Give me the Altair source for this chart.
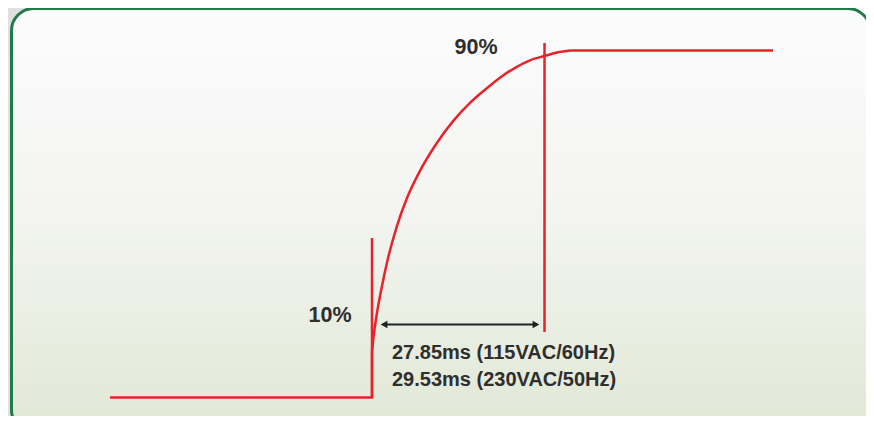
import altair as alt
import pandas as pd

# --- data (units = picture position units) ---
# step at the start of the response
step_x = [110, 372, 372]
step_y = [397.5, 397.5, 352]
# exponential rise and plateau
curve_x = [372, 373.5, 376.5, 381.7, 388.3, 396.7, 406.7, 420, 436.7, 453.3, 470, 485, 500, 515, 530, 545, 558, 570]
curve_y = [352, 337, 316, 287.4, 257, 226.8, 198.8, 170.9, 143.3, 120.9, 102.9, 89.7, 77.7, 67.8, 60.3, 55.8, 52.3, 50.5]
plateau_x = [570, 773]
plateau_y = [50.5, 50.5]

# 10% / 90% marker lines
marker_x = [372, 544.5]
marker_top = [238, 43]
marker_bottom = [398, 332]

# arrow between markers
arrow_x1, arrow_x2, arrow_y = 380, 540, 324.5

labels = ["90%", "10%"]
label_x = [476, 330]
label_y = [48, 315.5]

timing_lines = ["27.85ms (115VAC/60Hz)", "29.53ms (230VAC/50Hz)"]
timing_x = [392, 392]
timing_y = [352.5, 379.5]

RED = "#e8222b"
TEXT = "#2e2e2e"

W, H = 858, 408
xs = alt.Scale(domain=[8, 8 + W], nice=False, zero=False)
ys = alt.Scale(domain=[8, 8 + H], nice=False, zero=False, reverse=True)

def X(f):
    return alt.X(f, type="quantitative", scale=xs, axis=None)

def Y(f):
    return alt.Y(f, type="quantitative", scale=ys, axis=None)

frame = pd.DataFrame({"x": [11.5], "x2": [870], "y": [8.5], "y2": [432]})
gray = pd.DataFrame({"x": [8, 8, 8], "x2": [11.5, 40, 40], "y": [8, 8, 380], "y2": [424, 40, 424]})

gray_layer = alt.Chart(gray).mark_rect(color="#e0e0e2").encode(
    x=X("x"), x2="x2", y=Y("y"), y2="y2")

panel = alt.Chart(frame).mark_rect(
    cornerRadius=22,
    stroke="#227a48",
    strokeWidth=3,
    fill=alt.Gradient(
        gradient="linear",
        stops=[alt.GradientStop(color="#fbfcfc", offset=0),
               alt.GradientStop(color="#f4f5f2", offset=0.45),
               alt.GradientStop(color="#e1e8d5", offset=1)],
        x1=0, y1=0, x2=0, y2=1),
).encode(x=X("x"), x2="x2", y=Y("y"), y2="y2")

def line_layer(xv, yv, interp):
    df = pd.DataFrame({"x": xv, "y": yv, "o": list(range(len(xv)))})
    return alt.Chart(df).mark_line(color=RED, strokeWidth=2.5, interpolate=interp,
                                   strokeCap="butt", strokeJoin="miter").encode(
        x=X("x"), y=Y("y"), order="o:Q")

step = line_layer(step_x, step_y, "linear")
curve = line_layer(curve_x, curve_y, "monotone")
plateau = line_layer(plateau_x, plateau_y, "linear")

mk_df = pd.DataFrame({"x": marker_x, "y": marker_top, "y2": marker_bottom})
markers = alt.Chart(mk_df).mark_rule(color=RED, strokeWidth=2.5).encode(
    x=X("x"), y=Y("y"), y2="y2")

ar_df = pd.DataFrame({"x": [arrow_x1 + 3], "x2": [arrow_x2 - 3], "y": [arrow_y]})
arrow_line = alt.Chart(ar_df).mark_rule(color="#222222", strokeWidth=2).encode(
    x=X("x"), x2="x2", y=Y("y"))

head_df = pd.DataFrame({"x": [arrow_x1 + 4, arrow_x2 - 4], "y": [arrow_y, arrow_y],
                        "s": ["triangle-left", "triangle-right"]})
heads = alt.Chart(head_df).mark_point(filled=True, color="#222222", size=60, opacity=1).encode(
    x=X("x"), y=Y("y"),
    shape=alt.Shape("s:N", scale=alt.Scale(domain=["triangle-left", "triangle-right"],
                                          range=["triangle-left", "triangle-right"]), legend=None))

lab_df = pd.DataFrame({"t": labels, "x": label_x, "y": label_y})
lab = alt.Chart(lab_df).mark_text(font="Liberation Sans", fontWeight="bold", fontSize=21.5,
                                  color=TEXT, align="center", baseline="middle").encode(
    x=X("x"), y=Y("y"), text="t:N")

tim_df = pd.DataFrame({"t": timing_lines, "x": timing_x, "y": timing_y})
tim = alt.Chart(tim_df).mark_text(font="Liberation Sans", fontWeight="bold", fontSize=20,
                                  color=TEXT, align="left", baseline="middle").encode(
    x=X("x"), y=Y("y"), text="t:N")

chart = alt.layer(gray_layer, panel, step, curve, plateau, markers, arrow_line, heads, lab, tim).properties(
    width=W, height=H, autosize=alt.AutoSizeParams(type="none"), padding=0,
    background="white",
).configure_view(stroke=None)

chart.save("out.html", embed_options={"renderer": "svg", "actions": False})
